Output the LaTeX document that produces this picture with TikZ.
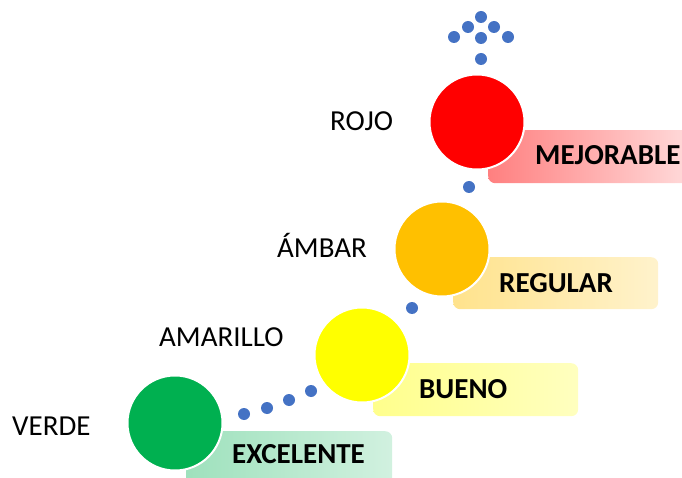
\documentclass[tikz,border=0pt]{standalone}
\usepackage{fontspec}
\setmainfont{Carlito}
\definecolor{cred}{HTML}{FF0000}
\definecolor{camber}{HTML}{FFC000}
\definecolor{cyellow}{HTML}{FFFF00}
\definecolor{cgreen}{HTML}{00B050}
\definecolor{cdot}{HTML}{4472C4}
\tikzset{
  lamp/.style={circle, draw=white, line width=2pt, minimum size=95pt, inner sep=0pt},
  tag/.style={rectangle, rounded corners=7pt, draw=none, inner sep=0pt, anchor=north west},
  dot/.style={circle, fill=cdot, draw=none, minimum size=12pt, inner sep=0pt},
  colname/.style={anchor=base west, inner sep=0pt, font=\fontsize{29}{34}\selectfont},
  tagtext/.style={anchor=base west, inner sep=0pt, font=\fontsize{29}{34}\selectfont\bfseries},
}
\begin{document}
\begin{tikzpicture}[x=1pt,y=-1pt]
\useasboundingbox (0,0) rectangle (682,478);
\clip (0,0) rectangle (682,478);
% tags (boxes)
\node[tag, minimum width=215pt, minimum height=53pt, left color=red!50, right color=red!12] (tmej) at (488,130) {};
\node[tag, minimum width=205pt, minimum height=52pt, left color=camber!45, right color=camber!20] (treg) at (453,257) {};
\node[tag, minimum width=205pt, minimum height=53pt, left color=cyellow!45, right color=cyellow!25] (tbue) at (373,363) {};
\node[tag, minimum width=206pt, minimum height=60pt, left color=cgreen!38, right color=cgreen!18] (texc) at (186,431) {};
% circles
\node[lamp, fill=cred] (rojo) at (477,122) {};
\node[lamp, fill=camber] (ambar) at (442,249) {};
\node[lamp, fill=cyellow] (amarillo) at (362,355) {};
\node[lamp, fill=cgreen] (verde) at (175,423) {};
% dots
\node[dot] (d1) at (244,414) {};
\node[dot] (d2) at (267,408) {};
\node[dot] (d3) at (289,400) {};
\node[dot] (d4) at (311,391) {};
\node[dot] (d5) at (412,308) {};
\node[dot] (d6) at (469,187) {};
\node[dot] (a0) at (481,59) {};
\node[dot] (a1) at (481,38) {};
\node[dot] (a2) at (454,37) {};
\node[dot] (a3) at (508,37) {};
\node[dot] (a4) at (468,27) {};
\node[dot] (a5) at (494,27) {};
\node[dot] (a6) at (481,17) {};
% colour names
\node[colname] (lverde) at (12,435) {VERDE};
\node[colname] (lamar) at (159,346) {AMARILLO};
\node[colname] (lamb) at (277,258) {ÁMBAR};
\node[colname] (lrojo) at (330,131) {ROJO};
% tag texts
\node[tagtext] (xmej) at (535,165) {MEJORABLE};
\node[tagtext] (xreg) at (499,292) {REGULAR};
\node[tagtext] (xbue) at (419,398) {BUENO};
\node[tagtext] (xexc) at (232,463) {EXCELENTE};
\end{tikzpicture}
\end{document}
